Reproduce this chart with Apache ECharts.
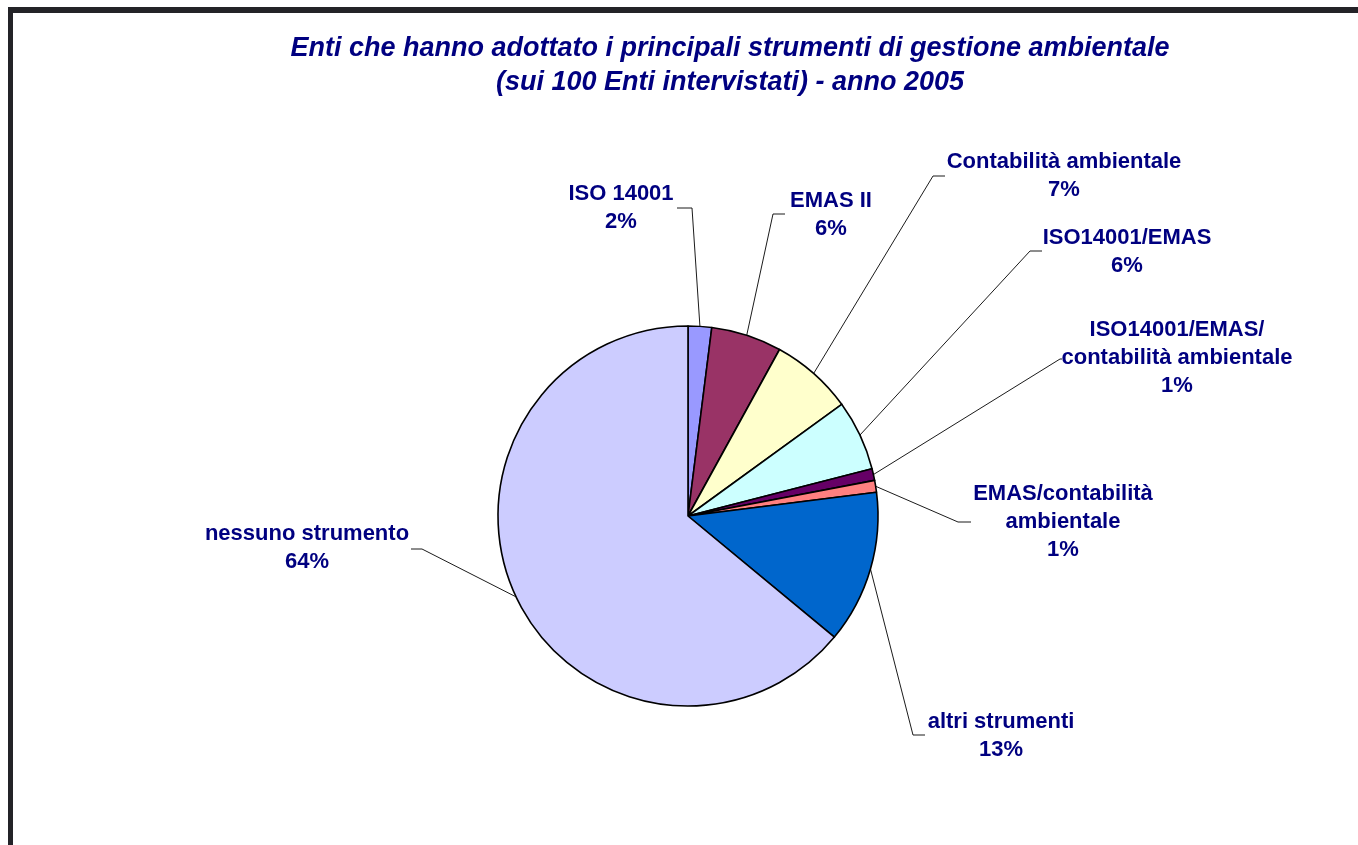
<!DOCTYPE html>
<html>
<head>
<meta charset="utf-8">
<script src="https://cdn.jsdelivr.net/npm/echarts@6/dist/echarts.min.js"></script>
<style>
html,body{margin:0;padding:0;background:#fff;}
#chart{width:1358px;height:845px;}
</style>
</head>
<body>
<div id="chart"></div>
<script>
// ---- data ----
const titleLines = [
  'Enti che hanno adottato i principali strumenti di gestione ambientale',
  '(sui 100 Enti intervistati) - anno 2005'
];
const categories = [
  'ISO 14001',
  'EMAS II',
  'Contabilità ambientale',
  'ISO14001/EMAS',
  'ISO14001/EMAS/\ncontabilità ambientale',
  'EMAS/contabilità\nambientale',
  'altri strumenti',
  'nessuno strumento'
];
const values = [2, 6, 7, 6, 1, 1, 13, 64];

// ---- styles / layout ----
const sliceColors = ['#9999FF', '#993366', '#FFFFCC', '#CCFFFF', '#660066', '#FF8080', '#0066CC', '#CCCCFF'];
// label block centres
const labelPos = [
  [621, 208], [831, 215], [1064, 176], [1127, 252],
  [1177, 358], [1063, 522], [1001, 736], [307, 548]
];
// leader line: elbow x, tail end x, tail y
const leaders = [
  [692, 677, 208], [773, 785, 214], [933, 945, 176], [1030, 1042, 251],
  [1060, 1062, 359], [958, 971, 522], [913, 925, 735], [422, 411, 549]
];
const pieCenter = [688, 516];
const pieRadius = 190;

const chart = echarts.init(document.getElementById('chart'), null, {renderer: 'canvas'});
const total = values.reduce((a, b) => a + b, 0);

chart.setOption({
  animation: false,
  title: {
    text: titleLines.join('\n'),
    left: 725,
    top: 27,
    textAlign: 'center',
    textStyle: {
      fontFamily: 'Liberation Sans, Arial, sans-serif',
      fontSize: 27,
      fontWeight: 'bold',
      fontStyle: 'italic',
      color: '#000080',
      lineHeight: 34
    }
  },
  graphic: [
    {type: 'rect', shape: {x: 8, y: 7, width: 1350, height: 6}, style: {fill: '#232328'}, z: 10},
    {type: 'rect', shape: {x: 8, y: 7, width: 5, height: 838}, style: {fill: '#232328'}, z: 10}
  ],
  series: [{
    type: 'pie',
    center: pieCenter,
    radius: pieRadius,
    startAngle: 90,
    clockwise: true,
    avoidLabelOverlap: false,
    data: categories.map((n, i) => ({name: n, value: values[i], itemStyle: {color: sliceColors[i]}})),
    itemStyle: {borderColor: '#000', borderWidth: 1.6},
    label: {
      show: true,
      position: 'outside',
      formatter: '{b}\n{c}%',
      fontFamily: 'Liberation Sans, Arial, sans-serif',
      fontSize: 22,
      fontWeight: 'bold',
      color: '#000080',
      lineHeight: 28,
      align: 'center'
    },
    labelLine: {
      show: true,
      length: 20,
      length2: 10,
      lineStyle: {color: '#000', width: 0.9}
    },
    emphasis: {disabled: true},
    labelLayout: function (params) {
      const i = params.dataIndex;
      const p = labelPos[i];
      const l = leaders[i];
      let start;
      if (params.labelLinePoints && params.labelLinePoints[0]) {
        start = [params.labelLinePoints[0][0], params.labelLinePoints[0][1]];
      } else {
        let before = 0;
        for (let k = 0; k < i; k++) before += values[k];
        const a = (before + values[i] / 2) / total * Math.PI * 2;
        start = [pieCenter[0] + pieRadius * Math.sin(a), pieCenter[1] - pieRadius * Math.cos(a)];
      }
      return {
        x: p[0],
        y: p[1],
        align: 'center',
        verticalAlign: 'middle',
        labelLinePoints: [start, [l[0], l[2]], [l[1], l[2]]]
      };
    }
  }]
});
</script>
</body>
</html>
